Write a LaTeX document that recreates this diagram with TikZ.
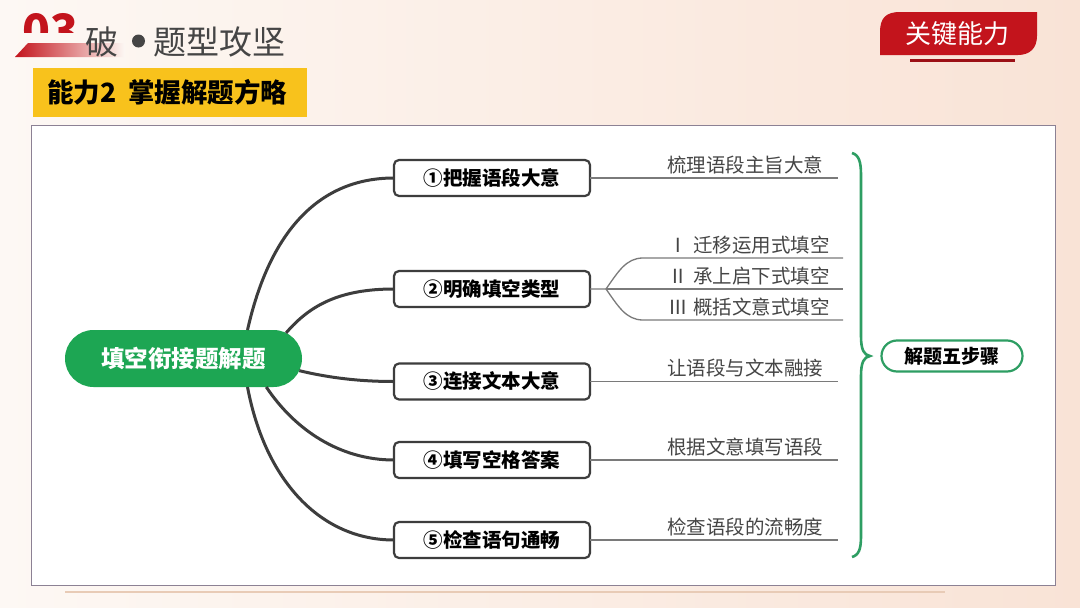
\documentclass[tikz,border=0pt]{standalone}
\usepackage{fontspec}
\setmainfont{Noto Sans CJK SC}
\usepackage{tikz}
\usetikzlibrary{positioning,calc,shapes.misc}
\definecolor{bgpeach}{HTML}{F9E3D6}
\definecolor{bglight}{HTML}{FDF8F4}
\definecolor{mapgreen}{HTML}{1DA653}
\definecolor{bracegreen}{HTML}{2E9E63}
\definecolor{darkline}{HTML}{3D3D3D}
\definecolor{leafgray}{HTML}{7A7A7A}
\definecolor{textgray}{HTML}{454545}
\definecolor{tabred}{HTML}{C3141C}
\definecolor{gold}{HTML}{F8C21C}
\definecolor{panelline}{HTML}{8C8194}
\definecolor{footline}{HTML}{E8CBB6}

\begin{document}
\begin{tikzpicture}[x=1pt, y=-1pt, every node/.style={inner sep=0pt, outer sep=0pt},
  stepbox/.style={draw=darkline, line width=2.2pt, rounded corners=5pt, fill=white, minimum width=196pt, minimum height=36pt, font=\fontsize{19.5}{22}\selectfont\bfseries},
  leaftext/.style={anchor=base west, text=textgray, font=\fontsize{19.5}{22}\selectfont},
  branch/.style={draw=darkline, line width=3pt},
  leaf/.style={draw=leafgray, line width=1.3pt}]
\useasboundingbox (0,0) rectangle (1080,608);
\shade[left color=bglight, right color=bgpeach] (0,0) rectangle (1080,608);

\begin{scope}
\clip (0,0) rectangle (120,32);
\node[anchor=base west, text=tabred, font=\fontsize{46}{46}\selectfont\bfseries] (num) at (22,47) {03};
\end{scope}
\shade[left color=tabred, right color=bglight] (15,57) -- (28,43) -- (125,43) -- (125,57) -- cycle;
\node[anchor=west, text=textgray, font=\fontsize{33}{33}\selectfont] (part) at (85,42) {破};
\fill[textgray] (138.5,41) circle (6.5);
\node[anchor=west, text=textgray, font=\fontsize{33}{33}\selectfont] (topic) at (153,42) {题型攻坚};
\node[fill=gold, anchor=north west, minimum width=274pt, minimum height=49pt, text width=246pt, align=left, font=\fontsize{26.5}{28}\selectfont\bfseries] (ability) at (33,68) {能力2\hspace{12pt}掌握解题方略};

\fill[tabred] (880,55) -- (880,32) .. controls (880,18) and (886,12) .. (900,12) -- (1037,12) -- (1037,36) .. controls (1037,48) and (1030,55) .. (1018,55) -- cycle;
\node[text=white, font=\fontsize{26}{26}\selectfont] (tab) at (957,34) {关键能力};
\draw[tabred!80!black, line width=3pt] (910,60) -- (1015,60);

\draw[panelline, line width=1pt, fill=white] (31,125) rectangle (1055,585);
\draw[footline, line width=1.5pt] (65,592) -- (945,592);

\node[rounded rectangle, fill=mapgreen, minimum width=237pt, minimum height=57pt, text=white, font=\fontsize{23.5}{26}\selectfont\bfseries] (root) at (183.5,358.5) {填空衔接题解题};
\node[stepbox] (b1) at (492,178) {①把握语段大意};
\node[stepbox] (b2) at (492,289) {②明确填空类型};
\node[stepbox] (b3) at (492,381.5) {③连接文本大意};
\node[stepbox] (b4) at (492,460) {④填写空格答案};
\node[stepbox] (b5) at (492,540) {⑤检查语句通畅};

\draw[branch] (root.24) .. controls (270,230) and (320,178) .. (b1.west);
\draw[branch] (root.14) .. controls (310,305) and (340,289) .. (b2.west);
\draw[branch] (root.-6) .. controls (330,378) and (360,381.5) .. (b3.west);
\draw[branch] (root.-19) .. controls (295,430) and (340,460) .. (b4.west);
\draw[branch] (root.-24) .. controls (265,480) and (320,540) .. (b5.west);

\coordinate (e1) at (838,178);
\coordinate (k2) at (606,289);
\coordinate (e2a) at (843,258);
\coordinate (e2b) at (843,289);
\coordinate (e2c) at (843,320);
\coordinate (e3) at (838,381.5);
\coordinate (e4) at (838,460);
\coordinate (e5) at (838,540);
\draw[leaf] (b1.east) -- (e1);
\draw[leaf] (b2.east) -- (k2) .. controls (618,272) and (626,258) .. (643,258) -- (e2a);
\draw[leaf] (k2) -- (e2b);
\draw[leaf] (k2) .. controls (618,306) and (626,320) .. (643,320) -- (e2c);
\draw[leaf] (b3.east) -- (e3);
\draw[leaf] (b4.east) -- (e4);
\draw[leaf] (b5.east) -- (e5);

\node[leaftext] (t1) at (667,172) {梳理语段主旨大意};
\node[leaftext] (t2a) at (668,252) {\makebox[20pt]{Ⅰ}\hspace{5pt}迁移运用式填空};
\node[leaftext] (t2b) at (668,283) {\makebox[20pt]{Ⅱ}\hspace{5pt}承上启下式填空};
\node[leaftext] (t2c) at (668,314) {\makebox[20pt]{Ⅲ}\hspace{5pt}概括文意式填空};
\node[leaftext] (t3) at (667,375.5) {让语段与文本融接};
\node[leaftext] (t4) at (667,454) {根据文意填写语段};
\node[leaftext] (t5) at (667,534) {检查语段的流畅度};

\draw[bracegreen, line width=2.6pt] (852,153) .. controls (859,155) and (861,162) .. (861,175) -- (861,336) .. controls (861,350) and (864,355) .. (870,356) .. controls (864,357) and (861,362) .. (861,376) -- (861,536) .. controls (861,549) and (859,555) .. (852,557);
\node[rounded rectangle, draw=bracegreen, line width=2.2pt, fill=white, minimum width=141pt, minimum height=31pt, font=\fontsize{19}{22}\selectfont\bfseries] (steps) at (952,356) {解题五步骤};
\end{tikzpicture}
\end{document}
